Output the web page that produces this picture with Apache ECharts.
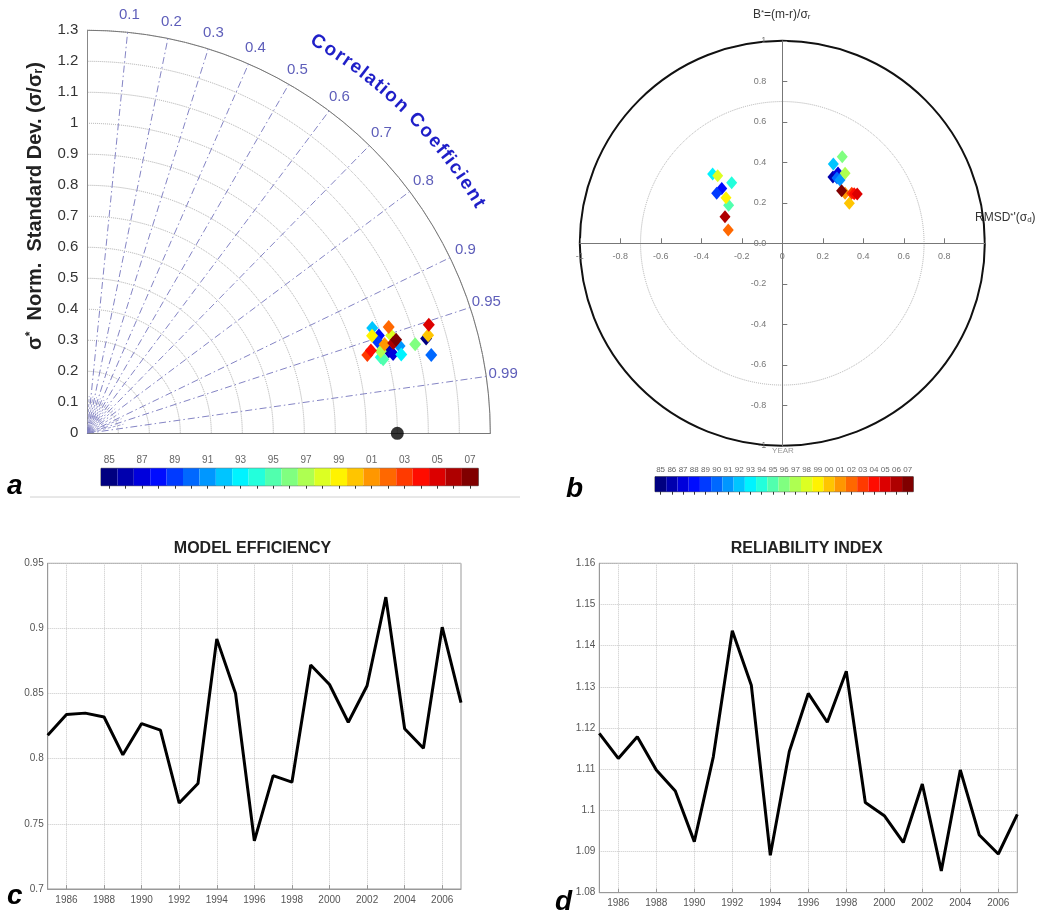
<!DOCTYPE html>
<html><head><meta charset="utf-8">
<script src="https://cdn.jsdelivr.net/npm/echarts@6/dist/echarts.min.js"></script>
<style>html,body{margin:0;padding:0;background:#fff}#c{width:1041px;height:914px}</style>
</head><body><div id="c"></div>
<script>
// ---------------- DATA ----------------
const YEARS = [1985,1986,1987,1988,1989,1990,1991,1992,1993,1994,1995,1996,1997,1998,1999,2000,2001,2002,2003,2004,2005,2006,2007];
const YEAR_LABELS = ['85','86','87','88','89','90','91','92','93','94','95','96','97','98','99','00','01','02','03','04','05','06','07'];
// Panel a: Taylor diagram (normalised std dev, correlation) per year
const TAYLOR_STD  = [1.135,1.008,1.019,0.992,0.983,1.138,1.046,0.980,1.044,0.978,0.984,1.096,0.983,1.030,0.971,1.144,1.001,1.031,0.938,0.953,1.156,1.029,1.041];
const TAYLOR_CORR = [0.963,0.965,0.968,0.948,0.954,0.975,0.963,0.938,0.970,0.968,0.970,0.965,0.963,0.952,0.946,0.961,0.958,0.943,0.963,0.960,0.953,0.959,0.957];
const STD_REF = 1.0;
const CORR_TICKS  = [0.1,0.2,0.3,0.4,0.5,0.6,0.7,0.8,0.9,0.95,0.99];
const CORR_LABELS = ['0.1','0.2','0.3','0.4','0.5','0.6','0.7','0.8','0.9','0.95','0.99'];
const CORR_MINOR  = [0.05,0.15,0.25,0.35,0.45,0.55,0.65,0.75,0.85,0.92,0.97];
// Panel b: target diagram (RMSD*', B*) per year
const TARGET_RMSD = [0.265,0.250,0.275,-0.299,-0.324,0.270,0.285,0.252,-0.344,-0.250,-0.265,0.296,0.310,-0.319,-0.278,0.331,0.310,-0.267,0.343,0.355,0.370,-0.283,0.293];
const TARGET_BIAS = [0.332,0.327,0.347,0.271,0.247,0.322,0.313,0.392,0.342,0.299,0.188,0.428,0.346,0.334,0.225,0.198,0.247,0.066,0.247,0.245,0.243,0.131,0.260];
// Panel c / d
const MODEL_EFF = [0.818,0.834,0.835,0.832,0.803,0.827,0.822,0.766,0.781,0.892,0.850,0.737,0.787,0.782,0.872,0.857,0.828,0.856,0.924,0.823,0.808,0.901,0.843];
const RELIAB    = [1.1187,1.1126,1.1179,1.1098,1.1047,1.0924,1.1130,1.1436,1.1304,1.0891,1.1143,1.1284,1.1214,1.1338,1.1019,1.0987,1.0922,1.1064,1.0853,1.1098,1.0940,1.0894,1.0990];

// ---------------- HELPERS ----------------
const FONT = '"Liberation Sans", Arial, Helvetica, sans-serif';
const DEG = 180/Math.PI;
const clamp = v => Math.max(0, Math.min(1, v));
function jet(t){
  const r = clamp(1.5-Math.abs(4*t-3)), g = clamp(1.5-Math.abs(4*t-2)), b = clamp(1.5-Math.abs(4*t-1));
  return 'rgb('+Math.round(r*255)+','+Math.round(g*255)+','+Math.round(b*255)+')';
}
const YEAR_COLORS = YEARS.map((y,i)=>jet(i/(YEARS.length-1)));
const evenYear = (i) => YEARS[i] % 2 === 0;

// Taylor layout
const TA = {cx:87.3, cy:433.3, R:403, max:1.3};
// Target layout
const TB = {cx:782.3, cy:243.3, R:202.5};

// ---------------- GRAPHIC TEXT ----------------
const graphics = [];
// curved "Correlation Coefficient"
(function(){
  const txt = 'Correlation Coefficient';
  const ctx = document.createElement('canvas').getContext('2d');
  ctx.font = 'bold 19px "Liberation Sans"';
  const w = [...txt].map(ch => ctx.measureText(ch).width);
  const centers = []; let acc = 0;
  w.forEach(x => { centers.push(acc + x/2); acc += x; });
  const c0 = centers[0], c1 = centers[centers.length-1];
  const th0 = 59.5, th1 = 30.4, rad = 454;
  [...txt].forEach((ch,i)=>{
    if (ch === ' ') return;
    const th = (th0 - (centers[i]-c0)/(c1-c0)*(th0-th1)) / DEG;
    graphics.push({type:'text', x: TA.cx + rad*Math.cos(th), y: TA.cy - rad*Math.sin(th),
      rotation: th - Math.PI/2, silent:true,
      style:{text:ch, fontSize:19, fontWeight:'bold', fontFamily:FONT, fill:'#1f1fc8', textAlign:'center', textVerticalAlign:'middle'}});
  });
})();
graphics.push(
  {type:'text', x:35, y:206, rotation:Math.PI/2, silent:true,
   style:{text:'σ{sup|*}  Norm.  Standard Dev. (σ/σ{sub|r})', fontSize:20, fontWeight:'bold', fontFamily:FONT, fill:'#222',
          textAlign:'center', textVerticalAlign:'middle',
          rich:{sup:{fontSize:12, fontWeight:'bold', fill:'#222', verticalAlign:'top', fontFamily:FONT},
                sub:{fontSize:12, fontWeight:'bold', fill:'#222', verticalAlign:'bottom', fontFamily:FONT}}}},
  {type:'text', x:781.7, y:15, silent:true,
   style:{text:'B{sup|*}=(m-r)/σ{sub|r}', fontSize:12, fontFamily:FONT, fill:'#333', textAlign:'center', textVerticalAlign:'middle',
          rich:{sup:{fontSize:8, fill:'#333', verticalAlign:'top'}, sub:{fontSize:8, fill:'#333', verticalAlign:'bottom'}}}},
  {type:'text', x:975, y:218, silent:true,
   style:{text:'RMSD{sup|*}\'(σ{sub|d})', fontSize:12, fontFamily:FONT, fill:'#333', textAlign:'left', textVerticalAlign:'middle',
          rich:{sup:{fontSize:8, fill:'#333', verticalAlign:'top'}, sub:{fontSize:8, fill:'#333', verticalAlign:'bottom'}}}},
  {type:'text', x:783, y:451, silent:true,
   style:{text:'YEAR', fontSize:8, fontFamily:FONT, fill:'#999', textAlign:'center', textVerticalAlign:'middle'}},
  {type:'text', x:252.5, y:548.5, silent:true,
   style:{text:'MODEL EFFICIENCY', fontSize:16, fontWeight:'bold', fontFamily:FONT, fill:'#222', textAlign:'center', textVerticalAlign:'middle'}},
  {type:'text', x:806.7, y:548.5, silent:true,
   style:{text:'RELIABILITY INDEX', fontSize:16, fontWeight:'bold', fontFamily:FONT, fill:'#222', textAlign:'center', textVerticalAlign:'middle'}},
  {type:'line', silent:true, shape:{x1:30, y1:497, x2:520, y2:497}, style:{stroke:'#d0d0d0', lineWidth:1}},
  {type:'text', x:7, y:486, silent:true, style:{text:'a', fontSize:28, fontWeight:'bold', fontStyle:'italic', fontFamily:FONT, fill:'#000', textAlign:'left', textVerticalAlign:'middle'}},
  {type:'text', x:566, y:489, silent:true, style:{text:'b', fontSize:28, fontWeight:'bold', fontStyle:'italic', fontFamily:FONT, fill:'#000', textAlign:'left', textVerticalAlign:'middle'}},
  {type:'text', x:7, y:896, silent:true, style:{text:'c', fontSize:28, fontWeight:'bold', fontStyle:'italic', fontFamily:FONT, fill:'#000', textAlign:'left', textVerticalAlign:'middle'}},
  {type:'text', x:555, y:902, silent:true, style:{text:'d', fontSize:28, fontWeight:'bold', fontStyle:'italic', fontFamily:FONT, fill:'#000', textAlign:'left', textVerticalAlign:'middle'}}
);

// ---------------- AXES ----------------
const tickLbl = (size, color) => ({fontSize:size, color:color, fontFamily:FONT});
const grids = [
  {left:TA.cx, top:TA.cy-TA.R, width:TA.R, height:TA.R},                 // 0 taylor y-axis
  {left:TB.cx-TB.R, top:TB.cy-TB.R, width:2*TB.R, height:2*TB.R},        // 1 target
  {left:101, top:468.3, width:377.3, height:17.4, show:true, borderColor:'#555', borderWidth:1}, // 2 cbar a
  {left:655, top:476.7, width:258.3, height:15, show:true, borderColor:'#555', borderWidth:1},   // 3 cbar b
  {left:47.7, top:563.3, width:413.3, height:325.7, show:true, borderColor:'#999', borderWidth:1}, // 4 c
  {left:599.3, top:563.3, width:418, height:329.4, show:true, borderColor:'#999', borderWidth:1}   // 5 d
];
const cbarAxis = (grid, pos, labels, interval, size, margin) => ({
  type:'category', gridIndex:grid, position:pos, data:YEAR_LABELS, boundaryGap:true,
  axisLine:{show:false},
  axisTick:{show:true, inside:true, length:3, alignWithLabel:true, interval:0, lineStyle:{color:'#333'}},
  axisLabel:{show:labels, interval:interval, margin:margin, ...tickLbl(size,'#666')},
  splitLine:{show:false}
});
const xAxes = [
  {type:'value', gridIndex:0, min:0, max:TA.max, axisLine:{lineStyle:{color:'#777'}}, axisTick:{show:false}, axisLabel:{show:false}, splitLine:{show:false}},
  {type:'value', gridIndex:1, min:-1, max:1, interval:0.2, position:'bottom', offset:-TB.R,
   axisLine:{onZero:false, lineStyle:{color:'#777'}}, axisTick:{inside:true, length:5, lineStyle:{color:'#777'}},
   axisLabel:{margin:9, ...tickLbl(9,'#777'), formatter:v => (Math.abs(v-1)<1e-9 ? '' : String(+v.toFixed(1)))},
   splitLine:{show:false}},
  cbarAxis(2,'top',true,1,10,3),
  cbarAxis(2,'bottom',false,0,10,3),
  cbarAxis(3,'top',true,0,8,3),
  cbarAxis(3,'bottom',false,0,8,3),
  {type:'category', gridIndex:4, data:YEARS.map(String), boundaryGap:false,
   axisLine:{lineStyle:{color:'#999'}}, axisTick:{inside:true, length:4, interval:evenYear, lineStyle:{color:'#999'}},
   axisLabel:{interval:evenYear, margin:6, ...tickLbl(10,'#555')},
   splitLine:{show:true, interval:evenYear, lineStyle:{color:'#c8c8c8', type:'dotted'}}},
  {type:'category', gridIndex:5, data:YEARS.map(String), boundaryGap:false,
   axisLine:{lineStyle:{color:'#999'}}, axisTick:{inside:true, length:4, interval:evenYear, lineStyle:{color:'#999'}},
   axisLabel:{interval:evenYear, margin:6, ...tickLbl(10,'#555')},
   splitLine:{show:true, interval:evenYear, lineStyle:{color:'#c8c8c8', type:'dotted'}}}
];
const yAxes = [
  {type:'value', gridIndex:0, min:0, max:TA.max, interval:0.1, axisLine:{show:true, lineStyle:{color:'#888'}}, axisTick:{show:false},
   axisLabel:{margin:9, ...tickLbl(15,'#333')}, splitLine:{show:false}},
  {type:'value', gridIndex:1, min:-1, max:1, interval:0.2, position:'left', offset:-TB.R,
   axisLine:{onZero:false, lineStyle:{color:'#777'}}, axisTick:{inside:true, length:5, lineStyle:{color:'#777'}},
   axisLabel:{margin:16, ...tickLbl(9,'#777'), formatter:v => (Math.abs(v)<1e-9 ? '0.0' : String(+v.toFixed(1)))},
   splitLine:{show:false}},
  {type:'value', gridIndex:2, min:0, max:1, show:false},
  {type:'value', gridIndex:3, min:0, max:1, show:false},
  {type:'value', gridIndex:4, min:0.7, max:0.95, interval:0.05,
   axisLine:{show:true, lineStyle:{color:'#999'}}, axisTick:{inside:true, length:4, lineStyle:{color:'#999'}},
   axisLabel:{margin:4, ...tickLbl(10,'#555')}, splitLine:{lineStyle:{color:'#c8c8c8', type:'dotted'}}},
  {type:'value', gridIndex:5, min:1.08, max:1.16, interval:0.01,
   axisLine:{show:true, lineStyle:{color:'#999'}}, axisTick:{inside:true, length:4, lineStyle:{color:'#999'}},
   axisLabel:{margin:4, ...tickLbl(10,'#555')}, splitLine:{lineStyle:{color:'#c8c8c8', type:'dotted'}}}
];

// ---------------- SERIES ----------------
const series = [];
CORR_TICKS.forEach(r => series.push({
  type:'line', coordinateSystem:'polar', polarIndex:0, silent:true, symbol:'none', z:1,
  data:[[0, Math.acos(r)*DEG],[TA.max, Math.acos(r)*DEG]],
  lineStyle:{color:'#8484c4', width:1, type:[7,3,1.5,3]}
}));
CORR_MINOR.forEach(r => series.push({
  type:'line', coordinateSystem:'polar', polarIndex:0, silent:true, symbol:'none', z:1,
  data:[[0.02, Math.acos(r)*DEG],[0.12, Math.acos(r)*DEG]],
  lineStyle:{color:'#a0a0d0', width:1, type:[3,2]}
}));
series.push({
  type:'scatter', coordinateSystem:'polar', polarIndex:0, silent:true, symbolSize:1, z:3, clip:false,
  itemStyle:{color:'rgba(0,0,0,0)'},
  data: CORR_TICKS.map((r,i)=>[1.355, Math.acos(r)*DEG, CORR_LABELS[i]]),
  label:{show:true, position:'inside', formatter:p=>p.value[2], color:'#3434a8', fontSize:15, fontFamily:FONT}
});
series.push({
  type:'scatter', coordinateSystem:'polar', polarIndex:0, symbol:'diamond', symbolSize:[12,14], z:5, clip:false,
  data: YEARS.map((y,i)=>[TAYLOR_STD[i], Math.acos(TAYLOR_CORR[i])*DEG, i]),
  itemStyle:{color:p=>YEAR_COLORS[p.value[2]], opacity:1}
});
series.push({
  type:'scatter', coordinateSystem:'polar', polarIndex:0, symbol:'circle', symbolSize:13, z:6, clip:false,
  data:[[STD_REF, 0]], itemStyle:{color:'#000'}
});
series.push({
  type:'scatter', xAxisIndex:1, yAxisIndex:1, symbol:'diamond', symbolSize:[11,13], z:5,
  data: YEARS.map((y,i)=>[TARGET_RMSD[i], TARGET_BIAS[i], i]),
  itemStyle:{color:p=>YEAR_COLORS[p.value[2]], opacity:1}
});
series.push({
  type:'bar', xAxisIndex:2, yAxisIndex:2, barWidth:'100%', barCategoryGap:'0%', silent:true,
  data: YEARS.map((y,i)=>({value:1, itemStyle:{color:YEAR_COLORS[i]}}))
});
series.push({
  type:'bar', xAxisIndex:4, yAxisIndex:3, barWidth:'100%', barCategoryGap:'0%', silent:true,
  data: YEARS.map((y,i)=>({value:1, itemStyle:{color:YEAR_COLORS[i]}}))
});
series.push({
  type:'line', xAxisIndex:6, yAxisIndex:4, data:MODEL_EFF, symbol:'none', lineStyle:{color:'#000', width:3}
});
series.push({
  type:'line', xAxisIndex:7, yAxisIndex:5, data:RELIAB, symbol:'none', lineStyle:{color:'#000', width:3}
});

const option = {
  animation:false,
  backgroundColor:'#fff',
  textStyle:{fontFamily:FONT},
  grid: grids,
  xAxis: xAxes,
  yAxis: yAxes,
  polar: [
    {center:[TA.cx, TA.cy], radius:TA.R},
    {center:[TB.cx, TB.cy], radius:TB.R}
  ],
  angleAxis: [
    {polarIndex:0, type:'value', min:0, max:90, startAngle:0, endAngle:90, clockwise:false,
     axisLine:{show:true, lineStyle:{color:'#777', width:1}}, axisTick:{show:false}, axisLabel:{show:false}, splitLine:{show:false}},
    {polarIndex:1, type:'value', min:0, max:360, startAngle:90,
     axisLine:{show:true, lineStyle:{color:'#111', width:2}}, axisTick:{show:false}, axisLabel:{show:false}, splitLine:{show:false}}
  ],
  radiusAxis: [
    {polarIndex:0, type:'value', min:0, max:TA.max, interval:0.1,
     axisLine:{show:false}, axisTick:{show:false}, axisLabel:{show:false},
     splitLine:{show:true, lineStyle:{color:'#aaaaaa', type:'dotted', width:1}}},
    {polarIndex:1, type:'value', min:0, max:1, interval:0.7,
     axisLine:{show:false}, axisTick:{show:false}, axisLabel:{show:false},
     splitLine:{show:true, lineStyle:{color:'#b0b0b0', type:'dotted', width:1}}}
  ],
  graphic: graphics,
  series: series
};
const chart = echarts.init(document.getElementById('c'), null, {renderer:'canvas'});
chart.setOption(option);
</script></body></html>
